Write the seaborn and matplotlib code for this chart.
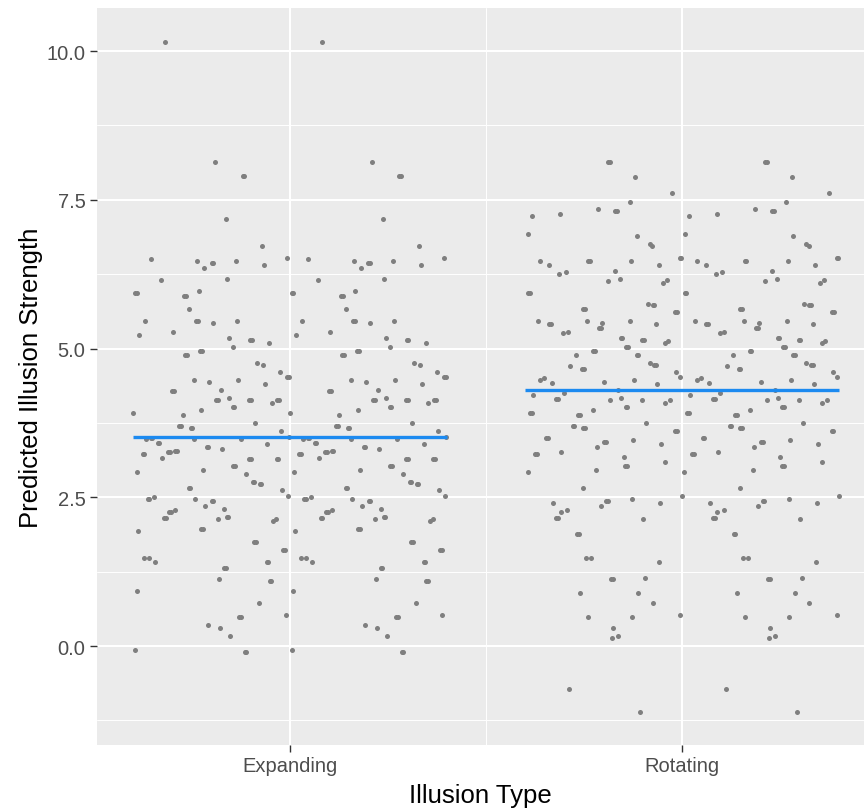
import matplotlib
matplotlib.use("Agg")
import matplotlib.pyplot as plt
import numpy as np
import pandas as pd
import seaborn as sns

# Illusion types on the x axis (discrete positions 1 and 2)
illusion_types = ["Expanding", "Rotating"]
illusion_positions = [1, 2]

# Horizontal jitter (in category units) and predicted strength for each
# response in the left half of each band; the chart shows every response
# a second time, 0.4 units to the right.
expanding_jitter = [
    -0.318, -0.192, -0.121, -0.117, -0.162, -0.071, -0.355, -0.236, -0.200, -0.196,
    -0.137, -0.066, -0.007, -0.219, -0.328, -0.161, -0.395, -0.391, -0.269, -0.265,
    -0.233, -0.258, -0.369, -0.239, -0.235, -0.196, -0.134, -0.385, -0.297, -0.155,
    -0.102, -0.098, -0.053, -0.145, -0.229, -0.225, -0.267, -0.263, -0.083, -0.069,
    -0.026, -0.007, -0.003, -0.245, -0.206, -0.133, -0.064, -0.300, -0.296, -0.176,
    -0.188, -0.184, -0.156, -0.104, -0.100, -0.146, -0.142, -0.047, -0.032, -0.028,
    -0.399, -0.227, -0.274, -0.088, -0.282, -0.278, -0.253, -0.249, -0.023, -0.366,
    -0.355, -0.351, -0.244, -0.126, -0.003, -0.337, -0.333, -0.058, -0.212, -0.208,
    -0.173, -0.376, -0.372, -0.310, -0.306, -0.293, -0.289, -0.327, -0.104, -0.100,
    -0.034, -0.030, -0.145, -0.141, -0.222, -0.389, -0.111, -0.095, -0.091, -0.077,
    -0.073, -0.258, -0.254, -0.019, -0.005, -0.363, -0.359, -0.346, -0.243, -0.199,
    -0.195, -0.217, -0.168, -0.308, -0.304, -0.293, -0.321, -0.317, -0.184, -0.161,
    -0.157, -0.387, -0.226, -0.222, -0.043, -0.036, -0.091, -0.087, -0.017, -0.013,
    -0.371, -0.359, -0.344, -0.059, -0.055, -0.168, -0.164, -0.180, -0.052, -0.048,
    -0.391, -0.078, -0.011, -0.129, -0.125, -0.209, -0.178, -0.152, -0.395, -0.115,
    -0.111,
]
expanding_strength = [
    10.16, 8.13, 7.90, 7.90, 7.17, 6.73, 6.50, 6.48, 6.44, 6.44,
    6.48, 6.40, 6.52, 6.36, 6.16, 6.17, 5.93, 5.93, 5.89, 5.89,
    5.97, 5.66, 5.47, 5.47, 5.47, 5.43, 5.47, 5.22, 5.28, 5.17,
    5.14, 5.14, 5.09, 5.03, 4.96, 4.96, 4.89, 4.89, 4.75, 4.73,
    4.61, 4.52, 4.52, 4.48, 4.44, 4.48, 4.40, 4.28, 4.28, 4.31,
    4.13, 4.13, 4.17, 4.14, 4.14, 4.02, 4.02, 4.09, 4.14, 4.14,
    3.92, 3.97, 3.89, 3.75, 3.70, 3.70, 3.66, 3.66, 3.61, 3.48,
    3.50, 3.50, 3.48, 3.48, 3.52, 3.41, 3.41, 3.40, 3.34, 3.34,
    3.31, 3.22, 3.22, 3.26, 3.26, 3.28, 3.28, 3.16, 3.14, 3.14,
    3.14, 3.14, 3.03, 3.03, 2.96, 2.93, 2.90, 2.75, 2.75, 2.73,
    2.73, 2.66, 2.66, 2.62, 2.53, 2.47, 2.47, 2.50, 2.47, 2.44,
    2.44, 2.35, 2.31, 2.26, 2.26, 2.28, 2.16, 2.16, 2.13, 2.17,
    2.17, 1.93, 1.97, 1.97, 2.10, 2.13, 1.75, 1.75, 1.61, 1.61,
    1.48, 1.48, 1.42, 1.41, 1.41, 1.31, 1.31, 1.13, 1.09, 1.09,
    0.92, 0.73, 0.52, 0.48, 0.48, 0.35, 0.31, 0.17, -0.07, -0.10,
    -0.10,
]

rotating_jitter = [
    -0.188, -0.184, -0.119, -0.025, -0.134, -0.383, -0.311, -0.215, -0.170, -0.166,
    -0.392, -0.116, -0.083, -0.076, -0.363, -0.339, -0.240, -0.236, -0.131, -0.060,
    -0.006, -0.002, -0.314, -0.297, -0.170, -0.188, -0.158, -0.049, -0.038, -0.393,
    -0.389, -0.252, -0.248, -0.088, -0.075, -0.071, -0.017, -0.013, -0.367, -0.339,
    -0.335, -0.242, -0.203, -0.211, -0.207, -0.132, -0.066, -0.303, -0.292, -0.156,
    -0.152, -0.102, -0.098, -0.043, -0.036, -0.142, -0.138, -0.227, -0.223, -0.270,
    -0.116, -0.112, -0.286, -0.255, -0.251, -0.083, -0.071, -0.067, -0.016, -0.006,
    -0.362, -0.351, -0.332, -0.198, -0.122, -0.064, -0.380, -0.302, -0.164, -0.321,
    -0.317, -0.183, -0.155, -0.103, -0.144, -0.140, -0.043, -0.030, -0.387, -0.383,
    -0.228, -0.265, -0.261, -0.092, -0.279, -0.275, -0.252, -0.248, -0.018, -0.014,
    -0.347, -0.343, -0.124, -0.198, -0.194, -0.054, -0.217, -0.374, -0.370, -0.308,
    -0.149, -0.145, -0.141, -0.044, -0.394, -0.220, -0.253, -0.001, -0.330, -0.194,
    -0.190, -0.206, -0.128, -0.055, -0.310, -0.293, -0.321, -0.317, -0.099, -0.268,
    -0.264, -0.245, -0.233, -0.058, -0.180, -0.176, -0.095, -0.260, -0.113, -0.075,
    -0.004, -0.239, -0.127, -0.176, -0.178, -0.163, -0.288, -0.108,
]
rotating_strength = [
    8.13, 8.13, 7.89, 7.61, 7.47, 7.22, 7.26, 7.34, 7.31, 7.31,
    6.92, 6.90, 6.75, 6.72, 6.48, 6.41, 6.48, 6.48, 6.48, 6.40,
    6.52, 6.52, 6.26, 6.28, 6.31, 6.13, 6.17, 6.10, 6.15, 5.93,
    5.93, 5.66, 5.66, 5.75, 5.73, 5.73, 5.61, 5.61, 5.47, 5.41,
    5.41, 5.47, 5.43, 5.34, 5.34, 5.47, 5.41, 5.26, 5.28, 5.17,
    5.17, 5.14, 5.14, 5.09, 5.13, 5.03, 5.03, 4.96, 4.96, 4.89,
    4.90, 4.90, 4.70, 4.66, 4.66, 4.75, 4.73, 4.73, 4.61, 4.52,
    4.48, 4.51, 4.42, 4.44, 4.48, 4.41, 4.22, 4.26, 4.31, 4.16,
    4.16, 4.13, 4.17, 4.14, 4.02, 4.02, 4.09, 4.14, 3.92, 3.92,
    3.96, 3.89, 3.89, 3.75, 3.70, 3.70, 3.66, 3.66, 3.61, 3.61,
    3.50, 3.50, 3.47, 3.43, 3.43, 3.40, 3.34, 3.22, 3.22, 3.26,
    3.17, 3.03, 3.03, 3.09, 2.93, 2.96, 2.66, 2.53, 2.41, 2.44,
    2.44, 2.35, 2.47, 2.40, 2.26, 2.28, 2.16, 2.16, 2.14, 1.89,
    1.89, 1.48, 1.48, 1.41, 1.13, 1.13, 1.14, 0.89, 0.90, 0.73,
    0.52, 0.48, 0.48, 0.31, 0.13, 0.17, -0.72, -1.10,
]

# Group means drawn as horizontal bars across each band
mean_strength = [3.52, 4.31]
band_half_width = 0.4

# Long-format table: each response appears in both halves of its band
rows = []
for pos, jit, vals in [
    (illusion_positions[0], expanding_jitter, expanding_strength),
    (illusion_positions[1], rotating_jitter, rotating_strength),
]:
    jit = np.asarray(jit)
    vals = np.asarray(vals)
    for half_shift in (0.0, band_half_width):
        rows.append(pd.DataFrame({"pos": pos + jit + half_shift, "strength": vals}))
df = pd.concat(rows, ignore_index=True)

sns.set_theme(style="darkgrid")
plt.rcParams["font.family"] = ["Liberation Sans", "DejaVu Sans"]

fig = plt.figure(figsize=(8.64, 8.12), dpi=100)
ax = fig.add_axes([0.1123, 0.0815, 0.8877, 0.9071])
ax.set_facecolor("#EBEBEB")

sns.scatterplot(data=df, x="pos", y="strength", color="#7F7F7F", s=13,
                linewidth=0, ax=ax, legend=False, zorder=3)

ax.hlines(mean_strength,
          [p - band_half_width for p in illusion_positions],
          [p + band_half_width for p in illusion_positions],
          colors="#1C8AF0", linewidth=2.4, zorder=4)

ax.set_xlim(0.508, 2.464)
ax.set_ylim(-1.66, 10.72)

ax.set_xticks(illusion_positions)
ax.set_xticklabels(illusion_types)
ax.set_xticks([1.5], minor=True)
ax.set_yticks([0, 2.5, 5, 7.5, 10])
ax.set_yticklabels(["0.0", "2.5", "5.0", "7.5", "10.0"])
ax.set_yticks([-1.25, 1.25, 3.75, 6.25, 8.75], minor=True)

ax.grid(which="major", color="white", linewidth=1.5)
ax.grid(which="minor", color="white", linewidth=0.7)
ax.set_axisbelow(True)

ax.tick_params(which="major", length=4.7, width=1.0, color="#333333",
               labelcolor="#4D4D4D", labelsize=14.5, pad=3.6,
               bottom=True, left=True)
ax.tick_params(which="minor", length=0)

for spine in ax.spines.values():
    spine.set_visible(False)

ax.set_xlabel("Illusion Type", fontsize=18.5, color="black", labelpad=5.5)
ax.set_ylabel("Predicted Illusion Strength", fontsize=18.5, color="black", labelpad=2.5)

fig.savefig("out.png", dpi=100, facecolor="white")
